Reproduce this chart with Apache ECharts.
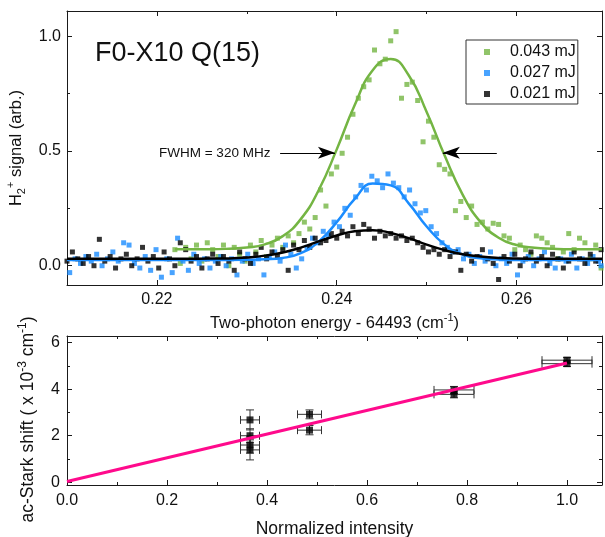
<!DOCTYPE html>
<html>
<head>
<meta charset="utf-8">
<script src="https://cdn.jsdelivr.net/npm/echarts@6/dist/echarts.min.js"></script>
<style>
html, body { margin: 0; padding: 0; background: #fff; }
#main { width: 605px; height: 537px; }
</style>
</head>
<body>
<div id="main"></div>
<script>
var FONT = '"Liberation Sans", Arial, sans-serif';

// ---- top panel: scans (x = two-photon energy - 64493 cm-1, y = H2+ signal)
var x021 = [0.2100,0.2106,0.2112,0.2118,0.2124,0.2130,0.2136,0.2142,0.2148,0.2154,
    0.2160,0.2166,0.2172,0.2178,0.2184,0.2190,0.2196,0.2202,0.2208,0.2214,
    0.2220,0.2226,0.2232,0.2238,0.2244,0.2250,0.2256,0.2262,0.2268,0.2274,
    0.2280,0.2286,0.2292,0.2298,0.2304,0.2310,0.2316,0.2322,0.2328,0.2334,
    0.2340,0.2346,0.2352,0.2358,0.2364,0.2370,0.2376,0.2382,0.2388,0.2394,
    0.2400,0.2406,0.2412,0.2418,0.2424,0.2430,0.2436,0.2442,0.2448,0.2454,
    0.2460,0.2466,0.2472,0.2478,0.2484,0.2490,0.2496,0.2502,0.2508,0.2514,
    0.2520,0.2526,0.2532,0.2538,0.2544,0.2550,0.2556,0.2562,0.2568,0.2574,
    0.2580,0.2586,0.2592,0.2598,0.2604,0.2610,0.2616,0.2622,0.2628,0.2634,
    0.2640,0.2646,0.2652,0.2658,0.2664,0.2670,0.2676,0.2682,0.2688,0.2694];
var y021 = [0.02,0.06,0.03,0.01,0.04,0.00,0.115,0.02,0.04,-0.01,
    0.03,0.05,0.00,0.03,0.08,0.02,0.04,-0.01,0.06,0.03,
    0.00,0.10,0.07,0.02,0.04,-0.01,0.03,0.05,0.01,0.04,
    0.02,-0.02,0.06,0.03,0.01,0.05,0.08,0.03,0.06,0.04,
    0.07,-0.02,0.09,0.07,0.11,0.08,0.12,0.10,0.11,0.14,
    0.12,0.15,0.13,0.17,0.14,0.18,0.16,0.12,0.15,0.13,
    0.14,0.12,0.13,0.11,0.12,0.10,0.08,0.06,0.07,0.05,
    0.07,0.04,0.06,-0.02,0.05,0.02,0.04,0.07,0.03,0.01,
    -0.06,0.04,0.02,0.05,0.00,0.03,0.06,0.02,0.04,0.00,
    0.05,0.03,-0.01,0.02,0.06,0.03,0.01,0.05,0.02,0.07];

var x027 = [0.2103,0.2109,0.2115,0.2121,0.2127,0.2133,0.2139,0.2145,0.2151,0.2157,
    0.2163,0.2169,0.2175,0.2181,0.2187,0.2193,0.2199,0.2205,0.2211,0.2217,
    0.2223,0.2229,0.2235,0.2241,0.2247,0.2253,0.2259,0.2265,0.2271,0.2277,
    0.2283,0.2289,0.2295,0.2301,0.2307,0.2313,0.2319,0.2325,0.2331,0.2337,
    0.2343,0.2349,0.2355,0.2361,0.2367,0.2373,0.2379,0.2385,0.2391,0.2397,
    0.2403,0.2409,0.2415,0.2421,0.2427,0.2433,0.2439,0.2445,0.2451,0.2457,
    0.2463,0.2469,0.2475,0.2481,0.2487,0.2493,0.2499,0.2505,0.2511,0.2517,
    0.2523,0.2529,0.2535,0.2541,0.2547,0.2553,0.2559,0.2565,0.2571,0.2577,
    0.2583,0.2589,0.2595,0.2601,0.2607,0.2613,0.2619,0.2625,0.2631,0.2637,
    0.2643,0.2649,0.2655,0.2661,0.2667,0.2673,0.2679,0.2685,0.2691,0.2694];
var y027 = [-0.03,0.03,0.01,0.04,0.02,0.05,0.00,0.03,0.06,0.02,
    0.10,0.09,0.01,-0.01,0.04,-0.02,0.07,-0.05,0.03,-0.03,
    0.12,0.02,-0.02,0.05,0.01,0.03,-0.01,0.02,0.04,0.00,
    0.03,-0.04,0.02,0.05,0.01,0.03,-0.04,0.04,0.06,0.02,
    0.09,0.05,-0.01,0.03,0.08,0.12,0.10,0.15,0.13,0.19,
    0.17,0.25,0.22,0.30,0.35,0.33,0.39,0.37,0.34,0.40,
    0.36,0.34,0.30,0.33,0.27,0.23,0.24,0.17,0.14,0.10,
    0.08,0.06,0.07,0.03,0.05,0.01,0.04,0.02,0.06,0.00,
    0.03,0.01,0.05,-0.04,0.02,0.04,0.00,0.03,0.06,0.01,
    -0.01,0.03,0.02,0.05,-0.01,0.03,0.01,0.04,0.02,0.00];

var x043 = [0.2220,0.2226,0.2232,0.2238,0.2244,0.2250,0.2256,0.2262,0.2268,0.2274,
    0.2280,0.2286,0.2292,0.2298,0.2304,0.2310,0.2316,0.2322,0.2328,0.2334,
    0.2340,0.2346,0.2352,0.2358,0.2364,0.2370,0.2376,0.2382,0.2388,0.2394,
    0.2400,0.2406,0.2412,0.2418,0.2424,0.2430,0.2436,0.2442,0.2448,0.2454,
    0.2460,0.2466,0.2472,0.2478,0.2484,0.2490,0.2496,0.2502,0.2508,0.2514,
    0.2520,0.2526,0.2532,0.2538,0.2544,0.2550,0.2556,0.2562,0.2568,0.2574,
    0.2580,0.2586,0.2592,0.2598,0.2604,0.2610,0.2616,0.2622,0.2628,0.2634,
    0.2640,0.2646,0.2652,0.2658,0.2664,0.2670,0.2676,0.2682,0.2688,0.2694];
var y043 = [0.07,0.01,0.08,0.03,0.09,0.02,0.10,0.07,0.04,0.09,
    0.00,0.08,0.05,0.02,0.09,0.06,0.11,0.04,0.09,0.12,
    0.08,0.13,0.10,0.14,0.19,0.16,0.21,0.33,0.26,0.40,
    0.43,0.49,0.56,0.66,0.73,0.78,0.81,0.94,0.88,0.90,
    0.98,1.02,0.73,0.79,0.80,0.72,0.54,0.63,0.56,0.44,
    0.42,0.40,0.24,0.28,0.21,0.26,0.18,0.19,0.16,0.185,
    0.18,0.13,0.12,0.07,0.09,0.07,0.05,0.13,0.12,0.10,
    0.08,0.03,0.06,0.14,0.07,0.12,0.10,0.03,0.09,-0.01];

// fitted profiles
var fitX   = [0.210,0.214,0.218,0.222,0.226,0.228,0.230,0.232,0.234,0.236,0.238,0.240,0.242,
    0.244,0.246,0.248,0.250,0.252,0.254,0.256,0.258,0.260,0.262,0.264,0.266,0.2695];
var fit043 = [null,null,null,0.072,0.072,0.074,0.079,0.093,0.129,0.203,0.33,0.507,0.70,
    0.852,0.901,0.83,0.67,0.48,0.31,0.19,0.122,0.09,0.078,0.074,0.072,0.072];
var fit027 = [0.025,0.025,0.025,0.025,0.025,0.025,0.026,0.028,0.034,0.055,0.105,0.19,0.291,
    0.358,0.35,0.272,0.171,0.092,0.049,0.032,0.027,0.025,0.025,0.025,0.025,0.025];
var fit021 = [0.03,0.03,0.03,0.03,0.031,0.032,0.036,0.044,0.058,0.079,0.106,0.132,0.15,
    0.155,0.143,0.12,0.092,0.068,0.05,0.04,0.034,0.031,0.03,0.03,0.03,0.03];

// FWHM arrows (x start, x tip) at the half-height level
var fwhmLevel = 0.492;
var arrowLeft = [0.2337, 0.2398];
var arrowRight = [0.2578, 0.2518];

// ---- bottom panel: ac-Stark shift vs intensity
var intensity    = [0.366,0.366,0.366,0.366,0.485,0.485,0.774,0.774,1.0,1.0];
var intensityErr = [0.019,0.019,0.019,0.019,0.024,0.024,0.04,0.04,0.05,0.05];
var shift        = [2.68,2.0,1.6,1.39,2.92,2.24,3.97,3.78,5.25,5.1];
var shiftErr     = [0.43,0.3,0.35,0.43,0.19,0.2,0.15,0.15,0.12,0.12];
var lineX = [0, 1.0];
var lineY = [0.03, 5.13];

// ticks
var topXMajor = [0.22, 0.24, 0.26];
var topXMinor = [0.21, 0.23, 0.25];
var topYMajor = [0, 0.5, 1.0];
var topYMinor = [0.25, 0.75];
var botXMajor = [0, 0.2, 0.4, 0.6, 0.8, 1.0];
var botXMinor = [0.1, 0.3, 0.5, 0.7, 0.9];
var botYMajor = [0, 2, 4, 6];
var botYMinor = [1, 3, 5];

var INK = '#1a1a1a';
var GREEN = '#74b543';
var BLUE = '#1a8cff';

function zip(xs, ys) {
    return xs.map(function (x, i) { return [x, ys[i]]; })
        .filter(function (p) { return p[1] !== null; });
}

function axis(grid, pos, min, max, ticks, len, withLine, extra) {
    var a = {
        type: 'value', gridIndex: grid, position: pos, min: min, max: max,
        axisLine: { show: withLine, onZero: false, lineStyle: { color: INK, width: 1 } },
        axisTick: { show: true, inside: true, length: len, customValues: ticks,
            lineStyle: { color: INK, width: 1 } },
        axisLabel: { show: false },
        splitLine: { show: false }
    };
    for (var k in extra) a[k] = extra[k];
    return a;
}

var rich = {
    a: { fontSize: 16.5, fontFamily: FONT, color: '#111', lineHeight: 22 },
    p: { fontSize: 11, fontFamily: FONT, color: '#111', verticalAlign: 'top', lineHeight: 22, padding: [0, 0, 8, 0] },
    s: { fontSize: 11, fontFamily: FONT, color: '#111', verticalAlign: 'bottom', lineHeight: 22, padding: [6, 0, 0, 0] }
};
var rich17 = {
    a: { fontSize: 17.5, fontFamily: FONT, color: '#111', lineHeight: 22 },
    p: { fontSize: 12, fontFamily: FONT, color: '#111', verticalAlign: 'top', lineHeight: 22, padding: [0, 0, 8, 0] }
};

var labelStyle = { show: true, fontSize: 16, fontFamily: FONT, color: '#111' };

var TX = [0.21, 0.2695], TY = [-0.084, 1.11];
var BX = [0, 1.07], BY = [-0.12, 6.29];

var xAxes = [
    axis(0, 'bottom', TX[0], TX[1], topXMajor, 5, true, {
        axisLabel: Object.assign({}, labelStyle, { margin: 7, customValues: topXMajor,
            formatter: function (v) { return v.toFixed(2); } }),
        name: '{a|Two-photon energy - 64493 (cm}{p|-1}{a|)}',
        nameLocation: 'middle', nameGap: 27, nameTextStyle: { rich: rich }
    }),
    axis(0, 'bottom', TX[0], TX[1], topXMinor, 3, false),
    axis(0, 'top', TX[0], TX[1], topXMajor, 5, true),
    axis(0, 'top', TX[0], TX[1], topXMinor, 3, false),
    axis(1, 'bottom', BX[0], BX[1], botXMajor, 5, true, {
        axisLabel: Object.assign({}, labelStyle, { margin: 8, customValues: botXMajor,
            formatter: function (v) { return v.toFixed(1); } }),
        name: '{a|Normalized intensity}',
        nameLocation: 'middle', nameGap: 33, nameTextStyle: { rich: rich17 }
    }),
    axis(1, 'bottom', BX[0], BX[1], botXMinor, 3, false),
    axis(1, 'top', BX[0], BX[1], botXMajor, 5, true),
    axis(1, 'top', BX[0], BX[1], botXMinor, 3, false)
];

var yAxes = [
    axis(0, 'left', TY[0], TY[1], topYMajor, 5, true, {
        axisLabel: Object.assign({}, labelStyle, { margin: 6, customValues: topYMajor,
            formatter: function (v) { return v.toFixed(1); } }),
        name: '{a|H}{s|2}{p|+}{a| signal (arb.)}',
        nameLocation: 'middle', nameGap: 32, nameTextStyle: { rich: rich }
    }),
    axis(0, 'left', TY[0], TY[1], topYMinor, 3, false),
    axis(0, 'right', TY[0], TY[1], topYMajor, 5, true),
    axis(0, 'right', TY[0], TY[1], topYMinor, 3, false),
    axis(1, 'left', BY[0], BY[1], botYMajor, 5, true, {
        axisLabel: Object.assign({}, labelStyle, { margin: 7, customValues: botYMajor,
            formatter: function (v) { return String(v); } }),
        name: '{a|ac-Stark shift ( x 10}{p|-3}{a| cm}{p|-1}{a|)}',
        nameLocation: 'middle', nameGap: 28,
        nameTextStyle: { rich: rich17, padding: [0, 18, 0, 0] }
    }),
    axis(1, 'left', BY[0], BY[1], botYMinor, 3, false),
    axis(1, 'right', BY[0], BY[1], botYMajor, 5, true),
    axis(1, 'right', BY[0], BY[1], botYMinor, 3, false)
];

var errData = intensity.map(function (x, i) {
    return [x, shift[i], intensityErr[i], shiftErr[i]];
});

function renderErr(params, api) {
    var x = api.value(0), y = api.value(1), dx = api.value(2), dy = api.value(3);
    var l = api.coord([x - dx, y]), r = api.coord([x + dx, y]);
    var t = api.coord([x, y + dy]), b = api.coord([x, y - dy]);
    var c = 4;
    var st = { stroke: '#333', lineWidth: 1, fill: null };
    function seg(x1, y1, x2, y2) {
        return { type: 'line', shape: { x1: x1, y1: y1, x2: x2, y2: y2 }, style: st };
    }
    return { type: 'group', children: [
        seg(l[0], l[1], r[0], r[1]),
        seg(l[0], l[1] - c, l[0], l[1] + c),
        seg(r[0], r[1] - c, r[0], r[1] + c),
        seg(t[0], t[1], b[0], b[1]),
        seg(t[0] - c, t[1], t[0] + c, t[1]),
        seg(b[0] - c, b[1], b[0] + c, b[1])
    ] };
}

var myChart = echarts.init(document.getElementById('main'), null, { renderer: 'canvas' });
var option = {
    animation: false,
    backgroundColor: '#fff',
    textStyle: { fontFamily: FONT },
    grid: [
        { left: 67, top: 11, right: 3, height: 274, containLabel: false, outerBoundsMode: 'none' },
        { left: 67, top: 336, right: 3, height: 149, containLabel: false, outerBoundsMode: 'none' }
    ],
    xAxis: xAxes,
    yAxis: yAxes,
    legend: {
        orient: 'vertical', left: 466, top: 40,
        padding: [4, 2, 2, 18], itemGap: 5,
        itemWidth: 6, itemHeight: 6, icon: 'rect',
        borderColor: '#333', borderWidth: 1,
        textStyle: { fontSize: 16, fontFamily: FONT, color: '#111', lineHeight: 16, padding: [0, 0, 0, 15] },
        data: ['0.043 mJ', '0.027 mJ', '0.021 mJ']
    },
    graphic: [
        { type: 'text', left: 95, top: 40, style: { text: 'F0-X10 Q(15)', font: '27px ' + FONT, fill: '#111' } },
        { type: 'text', left: 159, top: 146, style: { text: 'FWHM = 320 MHz', font: '13.5px ' + FONT, fill: '#111' } }
    ],
    series: [
        { name: '0.043 mJ', type: 'scatter', xAxisIndex: 0, yAxisIndex: 0, symbol: 'rect', symbolSize: 5,
          itemStyle: { color: GREEN }, data: zip(x043, y043) },
        { name: '0.027 mJ', type: 'scatter', xAxisIndex: 0, yAxisIndex: 0, symbol: 'rect', symbolSize: 5,
          itemStyle: { color: BLUE }, data: zip(x027, y027) },
        { name: '0.021 mJ', type: 'scatter', xAxisIndex: 0, yAxisIndex: 0, symbol: 'rect', symbolSize: 5,
          itemStyle: { color: '#000' }, data: zip(x021, y021) },
        { name: 'fit 0.043', type: 'line', xAxisIndex: 0, yAxisIndex: 0, smooth: true, showSymbol: false,
          lineStyle: { color: GREEN, width: 2.5 }, data: zip(fitX, fit043), z: 3,
          markLine: {
              silent: true, symbol: ['none', 'arrow'], symbolSize: [9, 17],
              lineStyle: { color: '#000', width: 1.2, type: 'solid' },
              label: { show: false },
              data: [
                  [{ coord: [arrowLeft[0], fwhmLevel] }, { coord: [arrowLeft[1], fwhmLevel] }],
                  [{ coord: [arrowRight[0], fwhmLevel] }, { coord: [arrowRight[1], fwhmLevel] }]
              ]
          } },
        { name: 'fit 0.027', type: 'line', xAxisIndex: 0, yAxisIndex: 0, smooth: true, showSymbol: false,
          lineStyle: { color: BLUE, width: 2.5 }, data: zip(fitX, fit027), z: 3 },
        { name: 'fit 0.021', type: 'line', xAxisIndex: 0, yAxisIndex: 0, smooth: true, showSymbol: false,
          lineStyle: { color: '#000', width: 2.5 }, data: zip(fitX, fit021), z: 3 },

        { name: 'err', type: 'custom', xAxisIndex: 4, yAxisIndex: 4, renderItem: renderErr,
          encode: { x: 0, y: 1 }, data: errData, z: 2 },
        { name: 'shift', type: 'scatter', xAxisIndex: 4, yAxisIndex: 4, symbol: 'rect', symbolSize: 7,
          itemStyle: { color: '#000' }, data: zip(intensity, shift), z: 3 },
        { name: 'linear fit', type: 'line', xAxisIndex: 4, yAxisIndex: 4, showSymbol: false,
          lineStyle: { color: '#ff0a8c', width: 3 }, data: zip(lineX, lineY), z: 4 }
    ]
};
myChart.setOption(option);
</script>
</body>
</html>
